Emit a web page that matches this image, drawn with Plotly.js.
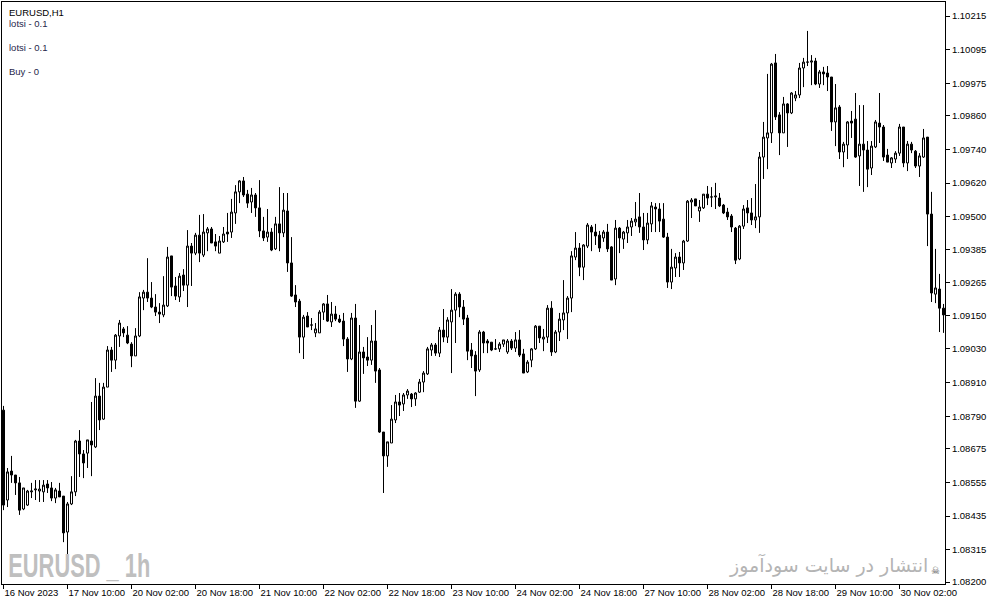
<!DOCTYPE html>
<html><head><meta charset="utf-8">
<script src="https://cdn.plot.ly/plotly-3.0.1.min.js"></script>
<style>html,body{margin:0;padding:0;background:#fff;overflow:hidden}#chart{width:991px;height:605px}</style>
</head><body><div id="chart"></div>
<script>
const openP = [1.08812,1.08492,1.08595,1.08581,1.08553,1.08460,1.08474,1.08521,1.08528,1.08524,
1.08521,1.08549,1.08535,1.08499,1.08524,1.08506,1.08378,1.08478,1.08521,1.08702,
1.08656,1.08659,1.08702,1.08681,1.08862,1.08780,1.08894,1.09026,1.08990,1.09076,
1.09101,1.09079,1.09047,1.09005,1.09076,1.09211,1.09232,1.09211,1.09179,1.09161,
1.09151,1.09183,1.09361,1.09254,1.09215,1.09293,1.09257,1.09396,1.09371,1.09435,
1.09364,1.09443,1.09457,1.09411,1.09371,1.09411,1.09446,1.09446,1.09514,1.09589,
1.09628,1.09581,1.09553,1.09578,1.09532,1.09450,1.09428,1.09446,1.09386,1.09475,
1.09443,1.09521,1.09336,1.09222,1.09200,1.09072,1.09147,1.09115,1.09087,1.09087,
1.09161,1.09190,1.09126,1.09154,1.09136,1.09129,1.09065,1.08994,1.09140,1.08844,
1.09019,1.09001,1.08990,1.09058,1.08955,1.08734,1.08649,1.08695,1.08777,1.08841,
1.08834,1.08866,1.08869,1.08852,1.08876,1.08912,1.08941,1.09026,1.09044,1.09015,
1.09097,1.09072,1.09126,1.09168,1.09225,1.09179,1.09140,1.09026,1.09008,1.08955,
1.09090,1.09058,1.09054,1.09030,1.09030,1.09047,1.09019,1.09058,1.09033,1.09062,
1.09012,1.08948,1.08990,1.09030,1.09111,1.09065,1.09072,1.09175,1.09019,1.09090,
1.09133,1.09158,1.09211,1.09357,1.09389,1.09321,1.09396,1.09464,1.09446,1.09435,
1.09425,1.09446,1.09393,1.09279,1.09460,1.09421,1.09443,1.09464,1.09482,1.09500,
1.09464,1.09418,1.09475,1.09535,1.09528,1.09492,1.09428,1.09268,1.09318,1.09357,
1.09336,1.09414,1.09553,1.09564,1.09521,1.09532,1.09581,1.09571,1.09571,1.09567,
1.09542,1.09517,1.09503,1.09460,1.09350,1.09467,1.09532,1.09514,1.09489,1.09500,
1.09713,1.09781,1.09799,1.10048,1.09863,1.09799,1.09902,1.09870,1.09923,1.09934,
1.10030,1.10051,1.10051,1.10055,1.09973,1.10016,1.10012,1.09998,1.09838,1.09891,
1.09731,1.09756,1.09841,1.09848,1.09717,1.09759,1.09738,1.09674,1.09749,1.09834,
1.09820,1.09720,1.09692,1.09706,1.09727,1.09820,1.09692,1.09759,1.09734,1.09681,
1.09713,1.09784,1.09510,1.09225,1.09243,1.09175];

const highP = [1.08827,1.08606,1.08649,1.08581,1.08574,1.08535,1.08528,1.08553,1.08563,1.08563,
1.08563,1.08563,1.08556,1.08535,1.08553,1.08506,1.08485,1.08577,1.08706,1.08741,
1.08670,1.08706,1.08841,1.08926,1.08909,1.08909,1.09040,1.09037,1.09083,1.09133,
1.09108,1.09111,1.09054,1.09104,1.09232,1.09240,1.09353,1.09268,1.09225,1.09193,
1.09289,1.09393,1.09361,1.09286,1.09300,1.09314,1.09453,1.09407,1.09443,1.09507,
1.09510,1.09464,1.09464,1.09439,1.09432,1.09464,1.09514,1.09564,1.09613,1.09631,
1.09642,1.09596,1.09603,1.09585,1.09631,1.09500,1.09528,1.09460,1.09500,1.09606,
1.09585,1.09585,1.09428,1.09257,1.09208,1.09151,1.09161,1.09140,1.09122,1.09168,
1.09193,1.09222,1.09197,1.09183,1.09151,1.09158,1.09072,1.09158,1.09190,1.09115,
1.09037,1.09072,1.09115,1.09168,1.08962,1.08734,1.08699,1.08830,1.08866,1.08873,
1.08873,1.08887,1.08873,1.08876,1.08923,1.08951,1.09037,1.09051,1.09051,1.09108,
1.09172,1.09143,1.09243,1.09232,1.09232,1.09204,1.09151,1.09051,1.09022,1.09097,
1.09094,1.09065,1.09054,1.09065,1.09054,1.09062,1.09065,1.09065,1.09090,1.09097,
1.09030,1.08990,1.09033,1.09115,1.09111,1.09101,1.09186,1.09200,1.09097,1.09158,
1.09275,1.09218,1.09378,1.09446,1.09407,1.09403,1.09478,1.09471,1.09475,1.09450,
1.09453,1.09475,1.09396,1.09489,1.09464,1.09450,1.09489,1.09496,1.09553,1.09585,
1.09514,1.09514,1.09553,1.09549,1.09549,1.09549,1.09443,1.09386,1.09371,1.09375,
1.09418,1.09560,1.09567,1.09564,1.09560,1.09581,1.09610,1.09606,1.09621,1.09585,
1.09546,1.09532,1.09510,1.09464,1.09471,1.09542,1.09560,1.09567,1.09617,1.09731,
1.09838,1.10009,1.10048,1.10080,1.09873,1.09927,1.09905,1.09944,1.09948,1.10048,
1.10066,1.10162,1.10076,1.10066,1.10023,1.10034,1.10037,1.09998,1.09973,1.09898,
1.09767,1.09841,1.09877,1.09941,1.09898,1.09898,1.09770,1.09770,1.09845,1.09941,
1.09827,1.09742,1.09713,1.09734,1.09831,1.09820,1.09770,1.09767,1.09738,1.09727,
1.09813,1.09784,1.09589,1.09386,1.09297,1.09190];

const lowP = [1.08456,1.08467,1.08553,1.08510,1.08439,1.08456,1.08471,1.08499,1.08492,1.08485,
1.08485,1.08517,1.08488,1.08481,1.08503,1.08342,1.08250,1.08474,1.08506,1.08574,
1.08570,1.08606,1.08577,1.08677,1.08741,1.08777,1.08894,1.08948,1.08958,1.09037,
1.09072,1.09047,1.08965,1.09005,1.09072,1.09168,1.09197,1.09175,1.09147,1.09122,
1.09143,1.09179,1.09218,1.09204,1.09197,1.09236,1.09179,1.09254,1.09364,1.09339,
1.09357,1.09378,1.09407,1.09378,1.09371,1.09407,1.09411,1.09425,1.09475,1.09549,
1.09571,1.09532,1.09514,1.09500,1.09428,1.09414,1.09411,1.09378,1.09382,1.09378,
1.09428,1.09304,1.09215,1.09179,1.09015,1.08994,1.09108,1.09097,1.09072,1.09087,
1.09133,1.09126,1.09108,1.09129,1.09122,1.09040,1.08948,1.08990,1.08820,1.08841,
1.08941,1.08969,1.08973,1.08909,1.08731,1.08517,1.08610,1.08695,1.08766,1.08791,
1.08809,1.08852,1.08823,1.08827,1.08873,1.08876,1.08937,1.09005,1.09005,1.09001,
1.09054,1.09051,1.08944,1.09051,1.09143,1.09115,1.08990,1.08962,1.08862,1.08948,
1.09015,1.09015,1.09022,1.09026,1.09019,1.09037,1.09012,1.09026,1.09019,1.09001,
1.08944,1.08944,1.08965,1.09026,1.09051,1.09022,1.09051,1.09005,1.09015,1.09058,
1.09097,1.09065,1.09161,1.09346,1.09289,1.09275,1.09389,1.09378,1.09400,1.09375,
1.09411,1.09375,1.09275,1.09257,1.09371,1.09386,1.09407,1.09432,1.09467,1.09443,
1.09382,1.09403,1.09446,1.09446,1.09446,1.09425,1.09247,1.09243,1.09286,1.09286,
1.09311,1.09411,1.09496,1.09539,1.09482,1.09528,1.09542,1.09535,1.09528,1.09535,
1.09510,1.09489,1.09446,1.09332,1.09346,1.09457,1.09478,1.09471,1.09460,1.09443,
1.09635,1.09670,1.09763,1.09845,1.09720,1.09799,1.09749,1.09866,1.09912,1.09923,
1.09962,1.10037,1.09969,1.09969,1.09959,1.09969,1.09948,1.09806,1.09752,1.09706,
1.09677,1.09706,1.09781,1.09710,1.09610,1.09589,1.09606,1.09649,1.09745,1.09763,
1.09699,1.09695,1.09674,1.09692,1.09717,1.09677,1.09663,1.09727,1.09674,1.09642,
1.09710,1.09396,1.09197,1.09193,1.09090,1.09087];

const closeP = [1.08474,1.08592,1.08581,1.08553,1.08456,1.08535,1.08524,1.08524,1.08531,1.08531,
1.08545,1.08535,1.08499,1.08528,1.08503,1.08375,1.08478,1.08521,1.08702,1.08656,
1.08624,1.08706,1.08688,1.08862,1.08777,1.08894,1.09026,1.08990,1.09079,1.09122,
1.09087,1.09051,1.09005,1.09076,1.09215,1.09232,1.09211,1.09179,1.09161,1.09154,
1.09186,1.09357,1.09250,1.09218,1.09289,1.09257,1.09396,1.09371,1.09435,1.09371,
1.09446,1.09457,1.09407,1.09396,1.09414,1.09439,1.09439,1.09517,1.09589,1.09628,
1.09578,1.09549,1.09578,1.09532,1.09450,1.09425,1.09446,1.09382,1.09475,1.09443,
1.09524,1.09336,1.09218,1.09197,1.09072,1.09143,1.09108,1.09115,1.09101,1.09161,
1.09190,1.09129,1.09154,1.09136,1.09126,1.09065,1.08994,1.09140,1.08844,1.09019,
1.08998,1.08990,1.09058,1.08951,1.08734,1.08649,1.08699,1.08780,1.08841,1.08830,
1.08866,1.08880,1.08852,1.08873,1.08912,1.08944,1.09030,1.09044,1.09015,1.09097,
1.09072,1.09133,1.09168,1.09225,1.09179,1.09136,1.09022,1.09005,1.08951,1.09090,
1.09051,1.09051,1.09026,1.09030,1.09047,1.09062,1.09058,1.09033,1.09062,1.09008,
1.08944,1.08983,1.09030,1.09111,1.09069,1.09072,1.09175,1.09019,1.09090,1.09136,
1.09158,1.09211,1.09361,1.09389,1.09321,1.09400,1.09471,1.09446,1.09432,1.09389,
1.09446,1.09386,1.09275,1.09460,1.09425,1.09446,1.09464,1.09485,1.09492,1.09464,
1.09418,1.09478,1.09539,1.09528,1.09485,1.09428,1.09268,1.09321,1.09357,1.09336,
1.09414,1.09556,1.09560,1.09539,1.09535,1.09581,1.09567,1.09571,1.09574,1.09539,
1.09514,1.09500,1.09464,1.09346,1.09467,1.09528,1.09514,1.09489,1.09500,1.09713,
1.09784,1.09799,1.10044,1.09856,1.09799,1.09902,1.09870,1.09941,1.09934,1.10030,
1.10051,1.10051,1.10055,1.09973,1.10016,1.10009,1.09998,1.09838,1.09888,1.09731,
1.09759,1.09838,1.09834,1.09713,1.09759,1.09738,1.09670,1.09752,1.09838,1.09820,
1.09713,1.09695,1.09710,1.09727,1.09820,1.09692,1.09759,1.09738,1.09681,1.09717,
1.09781,1.09510,1.09229,1.09247,1.09175,1.09151];

const xTickBars = [0,16,32,48,64,80,96,112,128,144,160,176,192,208,224];
const xTickLabels = ["16 Nov 2023","17 Nov 10:00","20 Nov 02:00","20 Nov 18:00","21 Nov 10:00","22 Nov 02:00","22 Nov 18:00","23 Nov 10:00","24 Nov 02:00","24 Nov 18:00","27 Nov 10:00","28 Nov 02:00","28 Nov 18:00","29 Nov 10:00","30 Nov 02:00"];
const yTickVals = [1.10215,1.10095,1.09975,1.09860,1.09740,1.09620,1.09500,1.09385,1.09265,1.09150,1.09030,1.08910,1.08790,1.08675,1.08555,1.08435,1.08315,1.08200];
const yTickLabels = ["1.10215","1.10095","1.09975","1.09860","1.09740","1.09620","1.09500","1.09385","1.09265","1.09150","1.09030","1.08910","1.08790","1.08675","1.08555","1.08435","1.08315","1.08200"];

const barIndex = openP.map((_, i) => i);

const FONT = 'Liberation Sans, Arial, sans-serif';
const trace = {
  type: 'candlestick', x: barIndex, open: openP, high: highP, low: lowP, close: closeP,
  increasing: {line: {color: '#000000', width: 1}, fillcolor: '#ffffff'},
  decreasing: {line: {color: '#000000', width: 1}, fillcolor: '#000000'},
  whiskerwidth: 0, hoverinfo: 'skip', showlegend: false
};

const layout = {
  width: 991, height: 605,
  margin: {l: 2, r: 46, t: 2, b: 21, pad: 0},
  paper_bgcolor: '#ffffff', plot_bgcolor: '#ffffff',
  boxgap: 0.5, boxgroupgap: 0,
  showlegend: false,
  xaxis: {
    range: [-0.375, 235.375], rangeslider: {visible: false}, fixedrange: true,
    showgrid: false, zeroline: false, showline: true, mirror: true,
    linecolor: '#000000', linewidth: 1,
    ticks: 'outside', ticklen: 4, tickwidth: 1, tickcolor: '#000000',
    tickmode: 'array', tickvals: xTickBars, ticktext: xTickLabels,
    tickangle: 0, ticklabelposition: 'outside right',
    tickfont: {family: FONT, size: 9.5, color: '#000000'}
  },
  yaxis: {
    side: 'right', range: [1.08193, 1.10265], fixedrange: true,
    showgrid: false, zeroline: false, showline: true, mirror: true,
    linecolor: '#000000', linewidth: 1,
    ticks: 'outside', ticklen: 4, tickwidth: 1, tickcolor: '#000000',
    tickmode: 'array', tickvals: yTickVals, ticktext: yTickLabels,
    tickfont: {family: FONT, size: 9.5, color: '#000000'}
  },
  annotations: [
    {xref: 'paper', yref: 'paper', x: 0.0048, y: 0.982, xanchor: 'left', yanchor: 'middle', showarrow: false,
     text: 'EURUSD,H1', font: {family: FONT, size: 9.5, color: '#000000'}},
    {xref: 'paper', yref: 'paper', x: 0.0048, y: 0.9631, xanchor: 'left', yanchor: 'middle', showarrow: false,
     text: 'lotsi - 0.1', font: {family: FONT, size: 9.5, color: '#1f1f4a'}},
    {xref: 'paper', yref: 'paper', x: 0.0048, y: 0.921, xanchor: 'left', yanchor: 'middle', showarrow: false,
     text: 'lotsi - 0.1', font: {family: FONT, size: 9.5, color: '#1f1f4a'}},
    {xref: 'paper', yref: 'paper', x: 0.0048, y: 0.8806, xanchor: 'left', yanchor: 'middle', showarrow: false,
     text: 'Buy - 0', font: {family: FONT, size: 9.5, color: '#1f1f4a'}},
    {xref: 'paper', yref: 'paper', x: 0.0817, y: 0.0326, xanchor: 'center', yanchor: 'middle', showarrow: false,
     text: '<b>EURUSD _ 1h</b>', font: {family: 'Liberation Sans, sans-serif', size: 33, color: '#bfbfbf'}},
    {xref: 'paper', yref: 'paper', x: 0.984, y: 0.0326, xanchor: 'right', yanchor: 'middle', showarrow: false,
     text: 'انتشار در سایت سودآموز', font: {family: 'DejaVu Sans, sans-serif', size: 19, color: '#b4b4b4'}},
    {xref: 'paper', yref: 'paper', x: 0.99, y: 0.024, xanchor: 'center', yanchor: 'middle', showarrow: false,
     text: '☠', font: {family: 'DejaVu Sans, sans-serif', size: 10, color: '#505050'}}
  ]
};

Plotly.newPlot('chart', [trace], layout, {staticPlot: true, displayModeBar: false}).then(function (gd) {
  // narrow the big watermark like the condensed font of the reference
  const texts = gd.querySelectorAll('.annotation-text');
  texts.forEach(function (t) {
    if (t.textContent.indexOf('EURUSD _ 1h') === 0) {
      t.setAttribute('textLength', '142');
      t.setAttribute('lengthAdjust', 'spacingAndGlyphs');
    }
  });
});
</script>
</body></html>
